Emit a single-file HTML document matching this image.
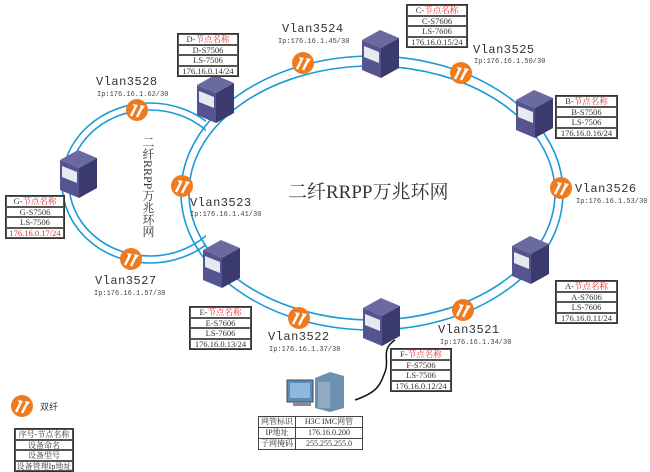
<!DOCTYPE html>
<html><head><meta charset="utf-8"><style>
body{margin:0;background:#fff;width:650px;height:467px;overflow:hidden;position:relative;font-family:"Liberation Serif","Noto Serif CJK SC",serif;}
.t{position:absolute;border:1px solid #333;background:#fff;font-size:8.5px;line-height:9px;text-align:center;color:#333}
.t div{border:1px solid #555;margin:0;height:8.5px;white-space:nowrap;overflow:hidden}
.r{color:#e03030}
.lb{position:absolute;font-family:"Liberation Mono",monospace;color:#333;white-space:nowrap}
.v{font-size:12px;letter-spacing:0.5px}
.ip{font-size:7px;color:#444;font-family:"Liberation Mono",monospace}
</style></head><body>
<svg width="650" height="467" style="position:absolute;left:0;top:0">
<defs>
<clipPath id="cl"><rect x="0" y="0" width="206" height="467"/></clipPath>
<g id="dev">
<polygon points="0,10 18,0 37,8 19,18" fill="#6a6aa0"/>
<polygon points="0,10 19,18 19,48 0,40" fill="#545490"/>
<polygon points="19,18 37,8 37,38 19,48" fill="#3a3a6e"/>
<polygon points="2,16 17,22 17,33 2,27" fill="#e8e8f0"/>
</g>
<g id="fib">
<circle r="11" fill="#f07a1e"/>
<path d="M-6,6 L-1,-4 M0,7 L5,-3" stroke="#fff" stroke-width="2.5"/>
<path d="M-4,-6 L1,-5 L-2,-1 Z M3,-5 L8,-4 L5,0 Z" fill="#fff"/>
</g>
</defs>
<ellipse cx="372" cy="193" rx="191" ry="137" fill="none" stroke="#1a9ad6" stroke-width="1.6"/>
<ellipse cx="372" cy="193" rx="183" ry="127" fill="none" stroke="#1a9ad6" stroke-width="1.6"/>
<g clip-path="url(#cl)">
<ellipse cx="150" cy="183" rx="88" ry="80" fill="none" stroke="#1a9ad6" stroke-width="1.6"/>
<ellipse cx="150" cy="183" rx="81" ry="73" fill="none" stroke="#1a9ad6" stroke-width="1.6"/>
</g>
<path d="M395,340 C380,350 390,360 385,372 C380,385 378,392 355,400" stroke="#111" stroke-width="1.5" fill="none"/>
<use href="#dev" x="362" y="30"/>
<use href="#dev" x="516" y="90"/>
<use href="#dev" x="197" y="75"/>
<use href="#dev" x="60" y="150"/>
<use href="#dev" x="203" y="240"/>
<use href="#dev" x="512" y="236"/>
<use href="#dev" x="363" y="298"/>
<use href="#fib" x="303" y="63"/>
<use href="#fib" x="461" y="73"/>
<use href="#fib" x="561" y="188"/>
<use href="#fib" x="463" y="310"/>
<use href="#fib" x="299" y="318"/>
<use href="#fib" x="182" y="186"/>
<use href="#fib" x="131" y="259"/>
<use href="#fib" x="137" y="110"/>
<use href="#fib" x="22" y="406"/>
<rect x="287" y="380" width="26" height="22" fill="#5b8bb8" stroke="#445" />
<rect x="290" y="383" width="20" height="15" fill="#8fb8dc"/>
<rect x="293" y="402" width="18" height="4" fill="#889"/>
<polygon points="315,378 330,372 344,376 344,408 330,412 315,408" fill="#6d8fb0"/>
<rect x="318" y="382" width="12" height="26" fill="#90aac4"/>
</svg>
<div class="lb" style="left:288px;top:177px;font-size:19px;font-family:'Liberation Serif','Noto Serif CJK SC',serif">二纤RRPP万兆环网</div>
<div class="lb" style="left:141px;top:136px;font-size:12px;writing-mode:vertical-rl;line-height:14px;font-family:'Liberation Serif','Noto Serif CJK SC',serif">二纤RRPP万兆环网</div>
<div class="lb v" style="left:282px;top:22px">Vlan3524</div><div class="lb ip" style="left:278px;top:38px">Ip:176.16.1.45/30</div>
<div class="lb v" style="left:473px;top:43px">Vlan3525</div><div class="lb ip" style="left:474px;top:58px">Ip:176.16.1.50/30</div>
<div class="lb v" style="left:575px;top:182px">Vlan3526</div><div class="lb ip" style="left:576px;top:198px">Ip:176.16.1.53/30</div>
<div class="lb v" style="left:438px;top:323px">Vlan3521</div><div class="lb ip" style="left:440px;top:339px">Ip:176.16.1.34/30</div>
<div class="lb v" style="left:268px;top:330px">Vlan3522</div><div class="lb ip" style="left:269px;top:346px">Ip:176.16.1.37/30</div>
<div class="lb v" style="left:190px;top:196px">Vlan3523</div><div class="lb ip" style="left:190px;top:211px">Ip:176.16.1.41/30</div>
<div class="lb v" style="left:95px;top:274px">Vlan3527</div><div class="lb ip" style="left:94px;top:290px">Ip:176.16.1.57/30</div>
<div class="lb v" style="left:96px;top:75px">Vlan3528</div><div class="lb ip" style="left:97px;top:91px">Ip:176.16.1.62/30</div>
<div class="lb" style="left:40px;top:400px;font-size:9px;font-family:'Liberation Sans','Noto Sans CJK SC',sans-serif">双纤</div>
<div class="t" style="top:4px;width:60px;left:406px"><div>C-<span class="r">节点名称</span></div><div>C-S7606</div><div>LS-7606</div><div>176.16.0.15/24</div></div>
<div class="t" style="left:177px;top:33px;width:60px"><div>D-<span class="r">节点名称</span></div><div>D-S7506</div><div>LS-7506</div><div>176.16.0.14/24</div></div>
<div class="t" style="left:555px;top:95px;width:61px"><div>B-<span class="r">节点名称</span></div><div>B-S7506</div><div>LS-7506</div><div>176.16.0.16/24</div></div>
<div class="t" style="left:5px;top:195px;width:58px"><div>G-<span class="r">节点名称</span></div><div>G-S7506</div><div>LS-7506</div><div class="r">176.16.0.17/24</div></div>
<div class="t" style="left:555px;top:280px;width:61px"><div>A-<span class="r">节点名称</span></div><div>A-S7606</div><div>LS-7606</div><div>176.16.0.11/24</div></div>
<div class="t" style="left:189px;top:306px;width:61px"><div>E-<span class="r">节点名称</span></div><div>E-S7606</div><div>LS-7606</div><div>176.16.0.13/24</div></div>
<div class="t" style="left:390px;top:348px;width:60px"><div>F-<span class="r">节点名称</span></div><div>F-S7506</div><div>LS-7506</div><div>176.16.0.12/24</div></div>
<div class="t" style="left:14px;top:428px;width:58px;font-size:8px"><div>序号-节点名称</div><div>设备命名</div><div>设备型号</div><div>设备管理Ip地址</div></div>
<table style="position:absolute;left:258px;top:416px;border-collapse:collapse;font-size:8px;line-height:8px;color:#333">
<tr><td style="border:1px solid #444;width:34px;text-align:center">网管标识</td><td style="border:1px solid #444;width:64px;text-align:center">H3C IMC网管</td></tr>
<tr><td style="border:1px solid #444;text-align:center">IP地址</td><td style="border:1px solid #444;text-align:center">176.16.0.200</td></tr>
<tr><td style="border:1px solid #444;text-align:center">子网掩码</td><td style="border:1px solid #444;text-align:center">255.255.255.0</td></tr>
</table>
</body></html>
